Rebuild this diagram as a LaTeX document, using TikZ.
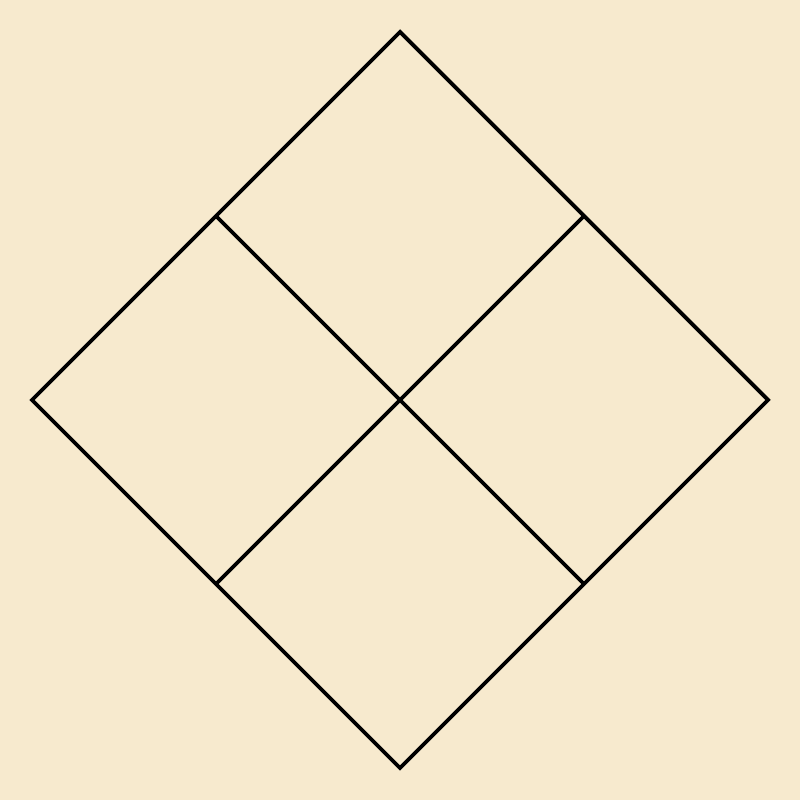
\documentclass[tikz,border=0pt]{standalone}
\usepackage{tikz}
\usetikzlibrary{calc}
\definecolor{paper}{RGB}{247,234,206}

\begin{document}
\begin{tikzpicture}[line width=1.1pt,edge/.style={draw=black,line join=miter}]
  % background fixes the page size
  \fill[paper] (0,0) rectangle (8,8);
  \useasboundingbox (0,0) rectangle (8,8);
  % the four corners of the diamond
  \coordinate (top) at (4,7.68);
  \coordinate (left) at (0.32,4);
  \coordinate (right) at (7.68,4);
  \coordinate (bottom) at (4,0.32);
  \coordinate (centre) at (4,4);
  % midpoints of the sides
  \coordinate (tl) at ($(top)!0.5!(left)$);
  \coordinate (tr) at ($(top)!0.5!(right)$);
  \coordinate (bl) at ($(bottom)!0.5!(left)$);
  \coordinate (br) at ($(bottom)!0.5!(right)$);
  % outline and the two inner lines
  \draw[edge] (top) -- (right) -- (bottom) -- (left) -- cycle;
  \draw[edge] (tl) -- (br);
  \draw[edge] (tr) -- (bl);
\end{tikzpicture}
\end{document}
